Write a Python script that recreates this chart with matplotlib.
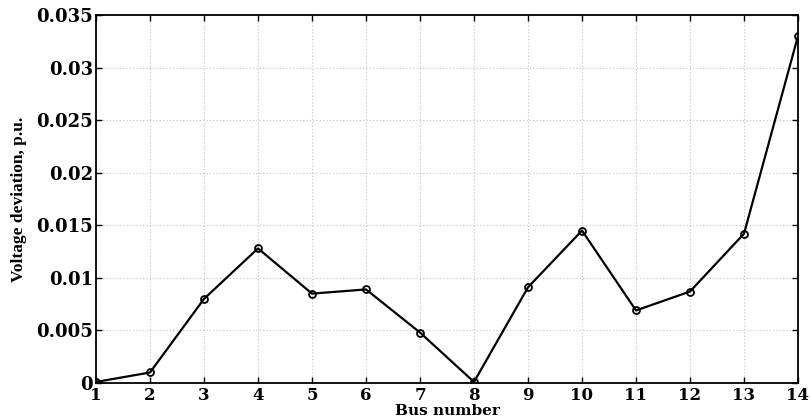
import numpy as np
import matplotlib.pyplot as plt

# datos
bus = np.arange(1, 15)
desviacion = [0.0001, 0.001, 0.008, 0.0128, 0.0085, 0.0089, 0.0048,
              0.0001, 0.0091, 0.0145, 0.0069, 0.0087, 0.0142, 0.033]
yticks = [0, 0.005, 0.01, 0.015, 0.02, 0.025, 0.03, 0.035]
ytick_labels = ['0', '0.005', '0.01', '0.015', '0.02', '0.025', '0.03', '0.035']

fig = plt.figure(figsize=(8.1, 4.18), dpi=100)
ax = fig.add_axes([96 / 810, 1 - 383 / 418, 702 / 810, 368 / 418])

ax.plot(bus, desviacion, color='black', linewidth=1.6, marker='o',
        markersize=5, markerfacecolor='none', markeredgewidth=1.3)

ax.set_xlim(1, 14)
ax.set_ylim(0, 0.035)
ax.set_xticks(bus)
ax.set_yticks(yticks)
ax.set_yticklabels(ytick_labels)
ax.grid(True, linestyle=(0, (1, 2)), color='#c0c0c0', linewidth=0.8)

ax.tick_params(direction='in', top=True, right=True, length=4, width=1,
               labelsize=13, pad=2)
ax.tick_params(axis='x', labelsize=12, pad=3)
for lab in ax.get_xticklabels() + ax.get_yticklabels():
    lab.set_fontfamily('DejaVu Serif')
    lab.set_fontweight('bold')
for s in ax.spines.values():
    s.set_linewidth(1.3)

ax.set_xlabel('Bus number', fontfamily='DejaVu Serif', fontweight='bold',
              fontsize=11, labelpad=0)
ax.set_ylabel('Voltage deviation, p.u.', fontfamily='Liberation Serif',
              fontweight='bold', fontsize=12.5, labelpad=7)

fig.savefig('out.png', dpi=100)
